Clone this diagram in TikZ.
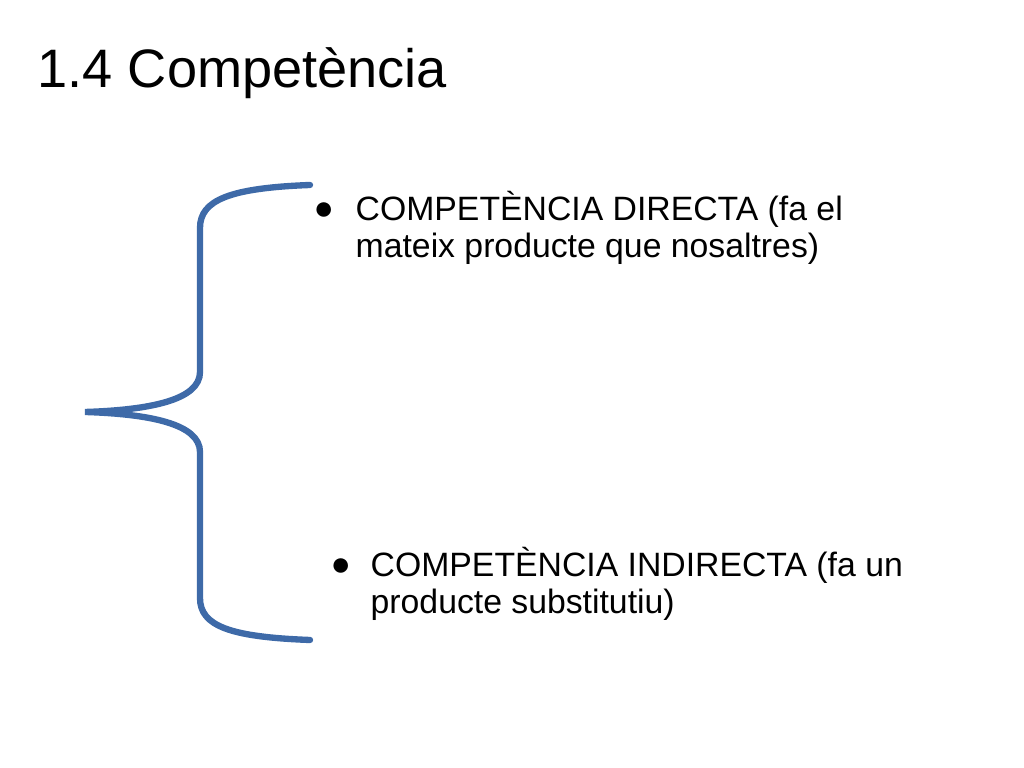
\documentclass[tikz,border=0pt]{standalone}
\usepackage{fontspec}
\setmainfont{Liberation Sans}
\begin{document}
\begin{tikzpicture}[x=0.01cm,y=-0.01cm,
    bracelinia/.style={line width=1.8pt,draw={rgb,255:red,62;green,106;blue,168},line cap=round},
    punt/.style={anchor=base west,inner sep=0pt,font=\fontsize{9.6pt}{10.8pt}\selectfont,align=left}]
    \useasboundingbox (0,0) rectangle (1024,768);
    %titol
    \node[anchor=base west,inner sep=0pt,font=\fontsize{15.4pt}{18pt}\selectfont] (titol) at (37,88) {1.4 Competència};
    %clau
    \coordinate (dalt) at (310,185);
    \coordinate (punta) at (85,412);
    \coordinate (baix) at (310,640);
    \draw[bracelinia] (dalt) .. controls (230,188) and (200,200) .. (200,228)
        -- (200,372) .. controls (200,400) and (150,410) .. (punta)
        .. controls (150,414) and (200,424) .. (200,452)
        -- (200,598) .. controls (200,626) and (230,637) .. (baix);
    %items
    \node[punt] (bdirecta) at (313,220) {●};
    \node[punt] (directa) at (355,258) {COMPETÈNCIA DIRECTA (fa el\\mateix producte que nosaltres)};
    \node[punt] (bindirecta) at (330,576) {●};
    \node[punt] (indirecta) at (370,614) {COMPETÈNCIA INDIRECTA (fa un\\producte substitutiu)};
\end{tikzpicture}
\end{document}
